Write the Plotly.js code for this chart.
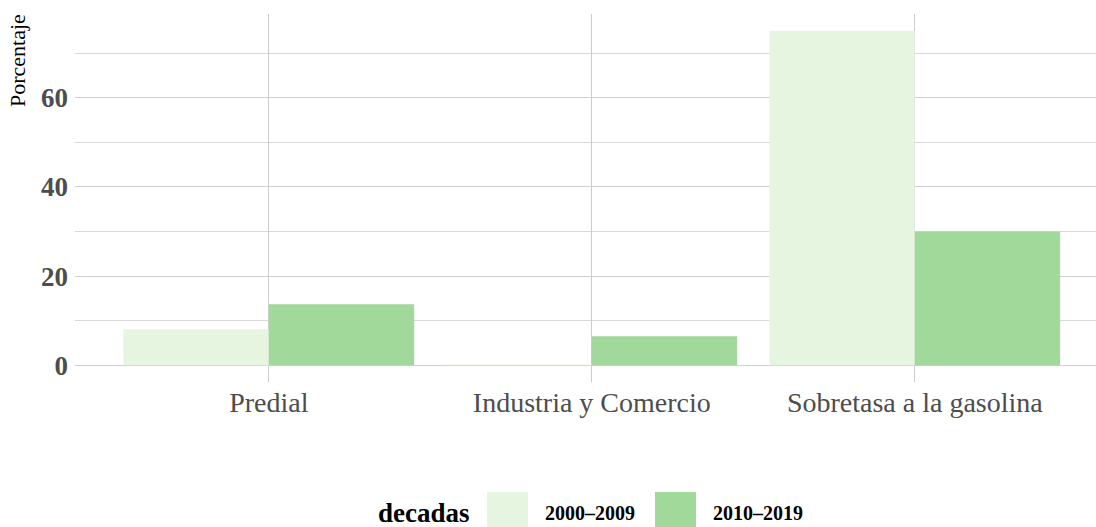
<!DOCTYPE html>
<html>
<head>
<meta charset="utf-8">
<script src="https://cdn.plot.ly/plotly-3.0.1.min.js"></script>
<style>html,body{margin:0;padding:0;background:#fff;}#chart{width:1096px;height:527px;}</style>
</head>
<body>
<div id="chart"></div>
<script>
const categories = ["Predial", "Industria y Comercio", "Sobretasa a la gasolina"];
const seriesNames = ["2000\u20132009", "2010\u20132019"];
const values2000 = [8.1, 0.2, 75.0];
const values2010 = [13.7, 6.5, 30.0];
const seriesColors = ["#e5f5e0", "#a1d99b"];
const yTickVals = [0, 20, 40, 60];
const legendTitle = "decadas";
const yTitle = "Porcentaje";

const FONT = "Liberation Serif, Times New Roman, serif";
const W = 1096, H = 527;
const mL = 75, mR = 0, mT = 14, mB = 145;
const pw = W - mL - mR, ph = H - mT - mB;
const px2x = p => (p - mL) / pw;
const py2y = p => (H - mB - p) / ph;

const allSeries = [values2000, values2010];
const traces = allSeries.map((vals, i) => ({
  type: "bar",
  x: categories.map((c, k) => k),
  y: vals,
  name: seriesNames[i],
  marker: {color: seriesColors[i], line: {width: 0}},
  showlegend: false,
  hoverinfo: "skip"
}));

// custom legend built from series names/colors
const shapes = [];
const annotations = [];
const legY = 513;
annotations.push({xref: "paper", yref: "paper", x: px2x(376), y: py2y(legY), xanchor: "left", yanchor: "middle",
  text: "<b>" + legendTitle + "</b>", showarrow: false, font: {family: FONT, size: 27, color: "#000"}});
const swX = [487, 655];
seriesNames.forEach((n, i) => {
  shapes.push({type: "rect", xref: "paper", yref: "paper",
    x0: px2x(swX[i]), x1: px2x(swX[i] + 41), y0: py2y(492), y1: py2y(528),
    fillcolor: seriesColors[i], line: {width: 0}, layer: "above"});
  annotations.push({xref: "paper", yref: "paper", x: px2x(swX[i] + 56), y: py2y(legY), xanchor: "left", yanchor: "middle",
    text: "<b>" + n + "</b>", showarrow: false, font: {family: FONT, size: 20, color: "#000"}});
});
annotations.push({xref: "paper", yref: "paper", x: px2x(18), y: py2y(61), xanchor: "center", yanchor: "middle",
  text: yTitle, textangle: -90, showarrow: false, font: {family: FONT, size: 22, color: "#000"}});

const layout = {
  width: W, height: H,
  margin: {l: mL, r: mR, t: mT, b: mB, pad: 0},
  paper_bgcolor: "#fff", plot_bgcolor: "#fff",
  barmode: "group", bargap: 0.1, bargroupgap: 0,
  showlegend: false,
  xaxis: {
    range: [-0.6, -0.6 + pw / 323],
    tickmode: "array", tickvals: categories.map((c, k) => k), ticktext: categories,
    showgrid: true, gridcolor: "#cccccc", gridwidth: 1,
    zeroline: false, showline: false, ticks: "",
    tickfont: {family: FONT, size: 28, color: "#4d4d4d"},
    ticklabelstandoff: 1
  },
  yaxis: {
    range: [-3.75, 78.75],
    tickmode: "array", tickvals: yTickVals, ticktext: yTickVals.map(v => "<b>" + v + "</b>"),
    showgrid: true, gridcolor: "#d0d0d0", gridwidth: 1,
    minor: {tickmode: "array", tickvals: [10, 30, 50, 70], showgrid: true, gridcolor: "#d9d9d9", gridwidth: 1},
    zeroline: false, showline: false, ticks: "",
    tickfont: {family: FONT, size: 27, color: "#4d4d4d"},
    ticklabelstandoff: 6
  },
  shapes: shapes,
  annotations: annotations
};

Plotly.newPlot("chart", traces, layout, {displayModeBar: false, staticPlot: true});
</script>
</body>
</html>
